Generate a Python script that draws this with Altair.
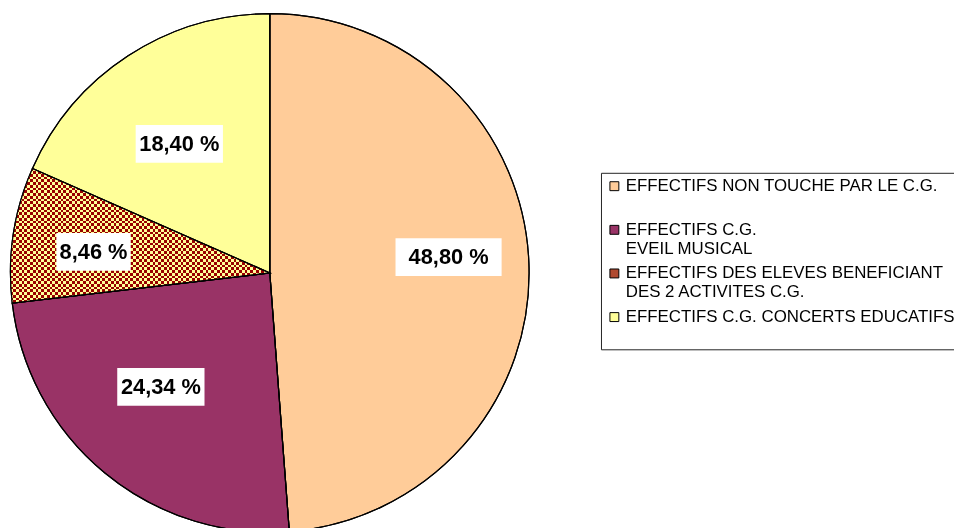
import altair as alt
import pandas as pd

# ---------------- data ----------------
categories = [
    "EFFECTIFS NON TOUCHE PAR LE C.G.",
    "EFFECTIFS C.G.|EVEIL MUSICAL",
    "EFFECTIFS DES ELEVES BENEFICIANT|DES 2 ACTIVITES C.G.",
    "EFFECTIFS C.G. CONCERTS EDUCATIFS",
]
percent = [48.80, 24.34, 8.46, 18.40]
labels = ["48,80 %", "24,34 %", "8,46 %", "18,40 %"]

# ---------------- styling ----------------
fills = ["#FFCC99", "#993366", "#B04A30", "#FFFF99"]
label_radius = [181, 159, 179, 159]
label_angle_shift = [-2.9, 4.2, -1.7, -1.9]
box_width = [107, 88, 75, 88]
BOX_H = 38
CX, CY, R = 264, 265, 261.5
CHK = categories[2]
CHK_DARK, CHK_LIGHT = "#990000", "#FFFF99"
N_ROWS, N_COLS = 49, 93

df = pd.DataFrame({
    "cat": categories,
    "value": percent,
    "label": labels,
    "idx": list(range(len(categories))),
    "lr": label_radius,
    "lshift": label_angle_shift,
    "bw": box_width,
})


def stripes(n, c0, c1):
    stops = []
    for i in range(n):
        c = c0 if i % 2 == 0 else c1
        stops.append(alt.GradientStop(offset=i / n, color=c))
        stops.append(alt.GradientStop(offset=(i + 1) / n, color=c))
    return stops


grad_rows = alt.LinearGradient(gradient="linear", stops=stripes(N_ROWS, "#000000", "#FFFFFF"),
                               x1=0, x2=0, y1=0, y2=1)
grad_cols = alt.LinearGradient(gradient="linear", stops=stripes(N_COLS, "#FFFFFF", "#000000"),
                               x1=0, x2=1, y1=0, y2=0)

theta = alt.Theta("value:Q", stack=True)
order = alt.Order("idx:Q")
cx = alt.value(CX)
cy = alt.value(CY)
only_chk = alt.condition(alt.datum.cat == CHK, alt.value(1), alt.value(0))

legend = alt.Legend(
    title=None,
    orient="none",
    legendX=598,
    legendY=164,
    padding=5,
    strokeColor="#222222",
    fillColor="#FFFFFF",
    symbolType="square",
    symbolSize=81,
    symbolStrokeColor="#000000",
    symbolStrokeWidth=1,
    labelFont="Liberation Sans",
    labelFontSize=17,
    labelColor="#000000",
    labelLimit=0,
    labelOffset=3,
    labelBaseline="middle",
    rowPadding=7,
    labelExpr="indexof(datum.label, '|') >= 0 ? split(datum.label, '|') : [datum.label, ' ']",
)

base = alt.Chart().mark_arc(outerRadius=R, stroke="#000000", strokeWidth=1.2).encode(
    theta=theta,
    order=order,
    x=cx, y=cy,
    color=alt.Color("cat:N", scale=alt.Scale(domain=categories, range=fills), sort=categories,
                    legend=legend),
)

layer_a = alt.Chart().mark_arc(outerRadius=R, fill=grad_rows).encode(
    theta=theta, order=order, detail="cat:N", x=cx, y=cy, opacity=only_chk)
layer_b = alt.Chart().mark_arc(outerRadius=R, fill=grad_cols, blend="difference").encode(
    theta=theta, order=order, detail="cat:N", x=cx, y=cy, opacity=only_chk)
layer_c = alt.Chart().mark_arc(outerRadius=R, fill=CHK_LIGHT, blend="multiply").encode(
    theta=theta, order=order, detail="cat:N", x=cx, y=cy, opacity=only_chk)
layer_d = alt.Chart().mark_arc(outerRadius=R, fill=CHK_DARK, blend="screen").encode(
    theta=theta, order=order, detail="cat:N", x=cx, y=cy, opacity=only_chk)
outline = alt.Chart().mark_arc(outerRadius=R, fill="#FFFFFF", fillOpacity=0,
                               stroke="#000000", strokeWidth=1.2).encode(
    theta=theta, order=order, detail="cat:N", x=cx, y=cy)

pos = (
    alt.Chart()
    .transform_joinaggregate(total="sum(value)")
    .transform_window(cum="sum(value)", sort=[alt.SortField("idx")], frame=[None, 0])
    .transform_calculate(mid="2*PI*(datum.cum - datum.value/2)/datum.total + datum.lshift*PI/180")
    .transform_calculate(lx=f"{CX} + datum.lr*sin(datum.mid)",
                         ly=f"{CY} - datum.lr*cos(datum.mid)")
    .transform_calculate(x0="datum.lx - datum.bw/2", x1="datum.lx + datum.bw/2",
                         y0=f"datum.ly - {BOX_H/2}", y1=f"datum.ly + {BOX_H/2}")
)

boxes = pos.mark_rect(fill="#FFFFFF").encode(
    x=alt.X("x0:Q", scale=None, axis=None),
    x2="x1:Q",
    y=alt.Y("y0:Q", scale=None, axis=None),
    y2="y1:Q",
)
texts = pos.mark_text(font="Liberation Sans", fontWeight="bold", fontSize=22,
                      color="#000000", align="center", baseline="middle").encode(
    x=alt.X("lx:Q", scale=None, axis=None),
    y=alt.Y("ly:Q", scale=None, axis=None),
    text="label:N",
)

chart = alt.layer(base, layer_a, layer_b, layer_c, layer_d, outline, boxes, texts, data=df).properties(
    width=954, height=520,
    autosize=alt.AutoSizeParams(type="none"),
    padding=0,
    background="#FFFFFF",
).configure_view(stroke=None)

chart.save("out.html", embed_options={"renderer": "svg", "actions": False})
